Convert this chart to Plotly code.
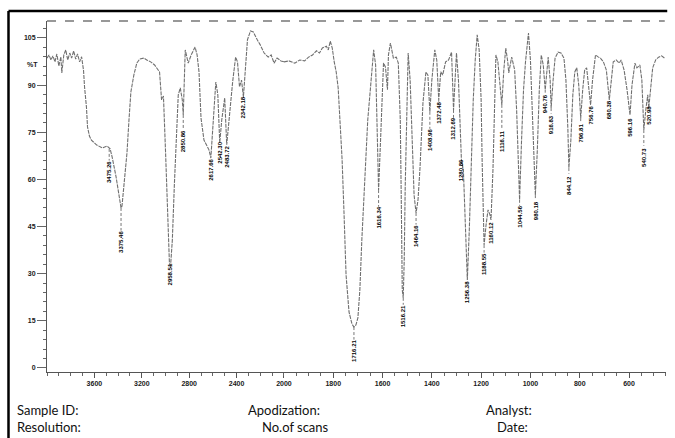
import plotly.graph_objects as go

# ---------------- data ----------------
# high-wavenumber part (4000 -> 2000 cm-1)
wn_high = [4000, 3983, 3967, 3950, 3933, 3917, 3900, 3883, 3875, 3858, 3842, 3825, 3808,
           3792, 3775, 3758, 3742, 3725, 3708, 3692, 3683, 3667, 3658, 3642, 3625, 3583,
           3533, 3492, 3467, 3450, 3417, 3392, 3375, 3367, 3350, 3325, 3308, 3292, 3267,
           3242, 3217, 3183, 3158, 3125, 3092, 3067, 3050, 3033, 3017, 3000, 2983, 2967,
           2958, 2942, 2925, 2908, 2892, 2875, 2858, 2850, 2842, 2833, 2808, 2783, 2750,
           2733, 2717, 2700, 2675, 2650, 2633, 2617, 2600, 2575, 2558, 2542, 2525, 2500,
           2483, 2458, 2433, 2408, 2392, 2375, 2358, 2342, 2325, 2308, 2283, 2258, 2225,
           2200, 2167, 2133, 2108, 2083, 2058, 2025, 2000]
t_high = [98.6, 99.6, 98.0, 99.3, 97.4, 99.9, 96.1, 99.0, 93.9, 99.6, 101.2, 98.0, 100.2,
          98.6, 100.9, 98.3, 99.9, 97.4, 99.0, 94.8, 89.4, 83.0, 76.7, 73.8, 72.5, 71.0,
          70.0, 70.6, 69.7, 67.1, 60.8, 54.1, 50.9, 51.5, 57.6, 68.4, 78.9, 87.8, 93.2,
          97.0, 98.3, 98.6, 98.0, 97.4, 96.4, 95.1, 94.2, 85.3, 86.5, 69.4, 48.7, 33.7,
          31.8, 40.7, 58.2, 75.7, 86.9, 89.1, 85.3, 80.5, 91.6, 101.2, 97.0, 99.6, 102.1,
          99.6, 94.2, 79.5, 72.5, 70.3, 69.4, 66.8, 75.7, 91.0, 86.9, 71.6, 78.9, 85.9,
          71.0, 82.1, 91.0, 98.9, 97.4, 89.4, 91.6, 86.2, 94.8, 104.4, 107.2, 106.9, 104.4,
          102.8, 100.2, 98.9, 99.6, 97.0, 98.6, 97.7, 97.4]

# low-wavenumber part (2000 -> 450 cm-1)
wn_low = [2000, 1980, 1956, 1936, 1916, 1900, 1884, 1868, 1856, 1844, 1828, 1820, 1812,
          1804, 1796, 1788, 1780, 1772, 1764, 1756, 1748, 1736, 1724, 1716, 1708, 1700,
          1692, 1684, 1672, 1660, 1648, 1636, 1628, 1624, 1620, 1616, 1608, 1600, 1596,
          1588, 1580, 1576, 1568, 1556, 1544, 1536, 1528, 1524, 1520, 1516, 1512, 1508,
          1500, 1496, 1488, 1480, 1472, 1464, 1456, 1448, 1436, 1424, 1416, 1408, 1400,
          1388, 1380, 1372, 1364, 1356, 1344, 1332, 1320, 1312, 1304, 1300, 1292, 1284,
          1280, 1272, 1264, 1256, 1248, 1240, 1232, 1224, 1216, 1208, 1200, 1196, 1192,
          1188, 1180, 1172, 1164, 1160, 1152, 1148, 1140, 1132, 1124, 1116, 1108, 1100,
          1092, 1088, 1076, 1064, 1056, 1048, 1044, 1036, 1028, 1020, 1008, 1000, 992,
          984, 980, 972, 964, 956, 948, 940, 932, 928, 920, 916, 908, 900, 888, 876,
          864, 856, 848, 844, 836, 828, 820, 812, 804, 796, 788, 780, 772, 764, 756,
          748, 736, 724, 716, 704, 692, 680, 672, 664, 652, 640, 632, 620, 608, 596,
          588, 576, 568, 556, 548, 540, 532, 524, 520, 512, 504, 492, 480, 468, 456]
t_low = [97.4, 97.7, 97.0, 98.0, 97.7, 98.9, 99.6, 100.9, 100.2, 101.8, 102.4, 101.2, 104.0,
         101.8, 97.4, 94.2, 89.1, 78.9, 66.2, 48.7, 29.6, 17.8, 14.0, 13.0, 13.7, 15.9,
         24.8, 40.7, 59.8, 78.9, 90.0, 101.2, 96.4, 85.3, 69.4, 56.6, 72.5, 90.0, 97.0,
         95.7, 88.5, 99.6, 103.4, 98.6, 98.9, 97.0, 78.9, 53.5, 24.8, 22.3, 34.4, 57.6,
         89.4, 100.2, 91.6, 69.4, 55.0, 49.3, 53.5, 63.6, 84.3, 94.2, 93.2, 81.5, 91.6,
         101.2, 98.0, 85.3, 94.2, 93.2, 97.4, 98.0, 100.5, 82.1, 96.4, 100.2, 91.6, 72.5,
         66.2, 63.0, 47.1, 28.0, 43.9, 66.2, 85.3, 98.0, 106.0, 101.2, 85.3, 66.2, 47.1,
         39.1, 45.5, 50.3, 48.7, 47.1, 63.0, 78.9, 99.6, 97.4, 91.6, 83.7, 94.8, 101.8,
         97.4, 93.9, 98.9, 94.8, 82.1, 59.8, 53.5, 72.5, 88.5, 97.4, 106.6, 98.0, 82.1,
         63.0, 55.0, 69.4, 88.5, 99.6, 96.4, 88.5, 96.4, 98.9, 91.6, 82.7, 91.6, 98.6, 100.5, 100.2,
         98.6, 91.6, 75.7, 63.6, 72.5, 86.9, 94.2, 95.5, 90.0, 79.5, 88.5, 94.8, 95.5, 90.0, 83.7,
         91.6, 99.6, 98.9, 98.6, 97.4, 94.8, 85.3, 91.6, 97.4, 98.0, 97.0, 98.0, 94.8, 88.5, 80.5,
         90.0, 97.0, 95.5, 96.4, 91.6, 75.7, 82.1, 86.9, 82.7, 90.0, 95.5, 98.0, 98.9, 99.3, 98.6]

# peak labels printed by the instrument
peak_wn = [3475, 3375, 2958, 2850, 2617, 2542, 2483, 2342, 1716, 1616, 1516, 1464, 1408,
           1372, 1312, 1280, 1256, 1188, 1160, 1116, 1044, 980, 940, 916, 844, 796, 756,
           680, 596, 540, 520]
peak_text = ["3475.26", "3375.46", "2958.51", "2850.86", "2617.66", "2542.30", "2483.72",
             "2342.18", "1716.21", "1616.34", "1516.21", "1464.16", "1408.96", "1372.48",
             "1312.69", "1280.86", "1256.38", "1188.55", "1160.12", "1116.11", "1044.56",
             "980.18", "940.76", "916.83", "844.12", "796.81", "756.76", "680.38", "596.16",
             "540.73", "520.98"]
peak_label_t = [62.4, 40.1, 29.9, 72.2, 63.0, 68.4, 67.1, 83.0, 5.4, 47.7, 16.5, 42.0, 72.5,
                81.1, 76.0, 63.0, 24.2, 33.1, 43.0, 72.2, 48.0, 50.0, 84.0, 77.3, 58.2, 74.8,
                80.5, 82.1, 76.4, 67.1, 80.5]

y_ticks = [0, 15, 30, 45, 60, 75, 90, 105]
x_ticks_high = [3600, 3200, 2800, 2400, 2000]
x_ticks_low = [1800, 1600, 1400, 1200, 1000, 800, 600]

footer_left = ["Sample ID:", "Resolution:"]
footer_mid = ["Apodization:", "No.of scans"]
footer_right = ["Analyst:", "Date:"]

# ---------------- figure ----------------
line_style = dict(color="#707070", width=1.1, dash="4px,1px")
tick_font = dict(family="Liberation Sans", size=7, color="#1a1a1a")

fig = go.Figure()
fig.add_trace(go.Scatter(x=wn_high, y=t_high, mode="lines", line=line_style,
                         xaxis="x", yaxis="y", showlegend=False, hoverinfo="skip"))
fig.add_trace(go.Scatter(x=wn_low, y=t_low, mode="lines", line=line_style,
                         xaxis="x2", yaxis="y", showlegend=False, hoverinfo="skip"))

split = 240 / 627
axis_common = dict(showline=True, linecolor="#555", linewidth=1, ticks="outside",
                   ticklen=5, tickcolor="#555", tickfont=tick_font, showgrid=False,
                   zeroline=False, fixedrange=True)

fig.update_layout(
    width=675, height=438,
    margin=dict(l=47, r=1, t=21, b=66),
    paper_bgcolor="white", plot_bgcolor="white",
    xaxis=dict(domain=[0, split], range=[4000, 2000], anchor="y",
               tickvals=x_ticks_high, ticktext=["<b>%d</b>" % v for v in x_ticks_high],
               minor=dict(ticks="outside", dtick=100, ticklen=3, tickcolor="#666"),
               **axis_common),
    xaxis2=dict(domain=[split, 1], range=[2000, 450], anchor="y",
                tickvals=x_ticks_low, ticktext=["<b>%d</b>" % v for v in x_ticks_low],
                minor=dict(ticks="outside", dtick=50, ticklen=3, tickcolor="#666"),
                **axis_common),
    yaxis=dict(range=[-1.3, 110.4], tickvals=y_ticks,
               ticktext=["<b>%d</b>" % v for v in y_ticks],
               minor=dict(ticks="outside", dtick=3, ticklen=3, tickcolor="#666"),
               showline=True, linecolor="#555", linewidth=1, ticks="outside", ticklen=9,
               tickcolor="#666", tickfont=tick_font, showgrid=False, zeroline=False,
               fixedrange=True),
)


def trough_value(wn):
    if wn > 2000:
        xs, ys = wn_high, t_high
    else:
        xs, ys = wn_low, t_low
    i = min(range(len(xs)), key=lambda k: abs(xs[k] - wn))
    return ys[i]


annotations = []
shapes = []
for wn, txt, ty in zip(peak_wn, peak_text, peak_label_t):
    xr = "x" if wn > 2000 else "x2"
    annotations.append(dict(x=wn, y=ty, xref=xr, yref="y",
                            text="<b>%s</b>" % txt, textangle=-90, showarrow=False,
                            font=dict(family="Liberation Sans", size=6, color="#000")))
    top = ty + 3.6
    tv = trough_value(wn)
    if tv - top > 0.5:
        shapes.append(dict(type="line", xref=xr, yref="y", x0=wn, x1=wn, y0=tv, y1=top,
                           line=dict(color="#777", width=1, dash="3px,2px")))

annotations.append(dict(x=-0.0351, y=0.8917, xref="paper", yref="paper", text="<b>%T</b>",
                        showarrow=False, font=tick_font))

foot_font = dict(family="Lato", size=13, color="#111")
for txt, x, y in [(footer_left[0], -0.051, -0.108), (footer_left[1], -0.051, -0.1567),
                  (footer_mid[0], 0.3222, -0.108), (footer_mid[1], 0.3445, -0.1567),
                  (footer_right[0], 0.7065, -0.108), (footer_right[1], 0.724, -0.1567)]:
    annotations.append(dict(x=x, y=y, xref="paper", yref="paper", text=txt,
                            xanchor="left", yanchor="middle", showarrow=False,
                            font=foot_font))

shapes += [
    # dashed upper frame of the chart
    dict(type="line", xref="paper", yref="paper", x0=0, x1=0.998, y0=1, y1=1,
         line=dict(color="#777", width=1.5, dash="dash")),
    # scanned page border
    dict(type="line", xref="paper", yref="paper", x0=-0.0622, x1=1.002, y0=1.0285, y1=1.0285,
         line=dict(color="#000", width=2.5)),
    dict(type="line", xref="paper", yref="paper", x0=-0.0622, x1=-0.0622, y0=1.0285, y1=-0.19,
         line=dict(color="#000", width=2.5)),
]
fig.update_layout(annotations=annotations, shapes=shapes)

fig.write_html("out.html", config={"displayModeBar": False},
               post_script="document.body.style.margin='0';document.body.style.overflow='hidden';")
